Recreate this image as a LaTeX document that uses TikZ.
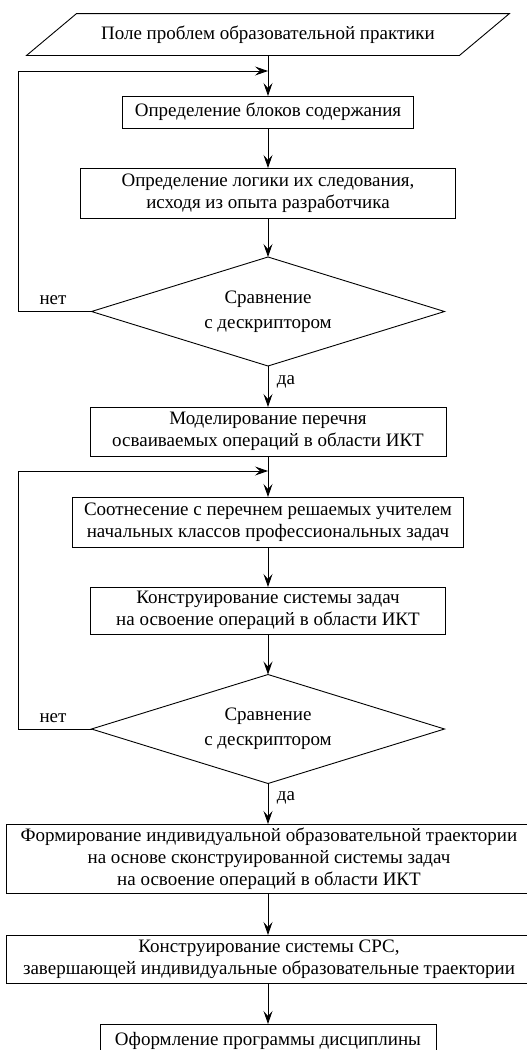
\documentclass[tikz,border=0pt]{standalone}
\usepackage{fontspec}
\setmainfont{Liberation Serif}
\usetikzlibrary{arrows.meta,shapes.geometric,calc}
\begin{document}
\begin{tikzpicture}[x=1pt,y=1pt,
  line width=0.9pt,
  txt/.style={font=\fontsize{19}{22}\selectfont},
  box/.style={txt, draw, rectangle, inner sep=0pt, outer sep=0pt, align=center},
  dec/.style={draw, diamond, aspect=3.24, inner sep=0pt, outer sep=0pt, align=center,
    minimum width=353, minimum height=109, font=\fontsize{19}{25}\selectfont},
  arr/.style={-{Stealth[length=13pt,width=9pt,inset=5pt]}},
  lbl/.style={txt, inner sep=0pt}]
\useasboundingbox (0,0) rectangle (527,-1050);
\clip (0,0) rectangle (527,-1050);
% input parallelogram
\node[txt, inner sep=0pt, minimum width=432, minimum height=41] (p) at (268,-34.5)
  {Поле проблем образовательной практики};
\draw ($(p.north west)+(25,0)$) -- ($(p.north east)+(25,0)$)
  -- ($(p.south east)+(-25,0)$) -- ($(p.south west)+(-25,0)$) -- cycle;
\node[box, minimum width=291, minimum height=32] (b1) at (268,-112)
  {Определение блоков содержания};
\node[box, minimum width=375, minimum height=50] (b2) at (268,-193)
  {Определение логики их следования,\\исходя из опыта разработчика};
\node[dec] (d1) at (268,-311.5) {Сравнение\\с дескриптором};
\node[box, minimum width=356, minimum height=49] (b3) at (268,-431.5)
  {Моделирование перечня\\осваиваемых операций в области ИКТ};
\node[box, minimum width=391, minimum height=50] (b4) at (268,-522)
  {Соотнесение с перечнем решаемых учителем\\начальных классов профессиональных задач};
\node[box, minimum width=355, minimum height=47] (b5) at (268,-610.5)
  {Конструирование системы задач\\на освоение операций в области ИКТ};
\node[dec] (d2) at (268,-729) {Сравнение\\с дескриптором};
\node[box, minimum width=526, minimum height=69] (b6) at (269,-858.5)
  {Формирование индивидуальной образовательной траектории\\на основе сконструированной системы задач\\на освоение операций в области ИКТ};
\node[box, minimum width=526, minimum height=48] (b7) at (269,-959)
  {Конструирование системы СРС,\\завершающей индивидуальные образовательные траектории};
\node[box, minimum width=336, minimum height=34] (b8) at (268,-1041)
  {Оформление программы дисциплины};
% labels
\node[lbl] (n1) at (53,-300) {нет};
\node[lbl] (n2) at (53,-718) {нет};
\node[lbl] (y1) at (286,-382) {да};
\node[lbl] (y2) at (286,-798) {да};
% coordinates
\coordinate (c1) at (268,-71);
\coordinate (c2) at (268,-471);
\coordinate (l1) at (18,-311.5);
\coordinate (l2) at (18,-729);
% connectors
\draw[arr] (p.south) -- (b1.north);
\draw[arr] (b1.south) -- (b2.north);
\draw[arr] (b2.south) -- (d1.north);
\draw[arr] (d1.south) -- (b3.north);
\draw[arr] (b3.south) -- (b4.north);
\draw[arr] (b4.south) -- (b5.north);
\draw[arr] (b5.south) -- (d2.north);
\draw[arr] (d2.south) -- (b6.north -| b5.south);
\draw[arr] (b6.south -| b5.south) -- (b7.north -| b5.south);
\draw[arr] (b7.south -| b5.south) -- (b8.north);
\draw[arr] (d1.west) -- (l1) |- (c1);
\draw[arr] (d2.west) -- (l2) |- (c2);
\end{tikzpicture}
\end{document}
